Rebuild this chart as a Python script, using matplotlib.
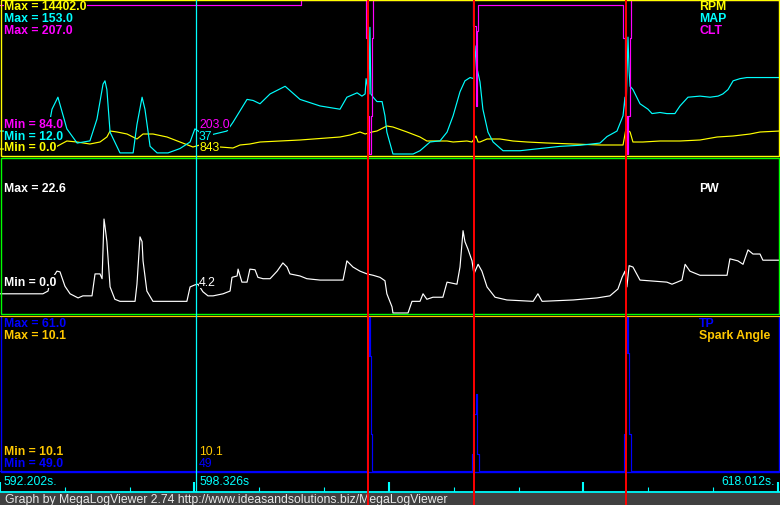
"""
MegaLogViewer-style log graph (RPM/MAP/CLT, PW, TP/Spark Angle)
"""
import numpy as np
import matplotlib
matplotlib.use("Agg")
import matplotlib.pyplot as plt
from matplotlib.patches import Rectangle

plt.rcParams['font.family'] = ['Liberation Sans', 'DejaVu Sans']

W, H = 780, 506

# time window (s)
T0 = 592.202
SPAN = 24.375
cursor_time = 598.326
marker_times = [603.702, 607.015, 611.765]
time_labels = ["592.202s.", "598.326s", "618.012s."]

# --- panel 1 : RPM / MAP / CLT (time relative to T0) ---
rpm_t = [0.0, 1.625, 2.09, 2.41, 2.81, 3.125, 3.34, 3.44, 3.66, 3.97, 4.28, 4.47, 4.78,
         5.22, 5.625, 6.03, 6.25, 6.875, 7.28, 7.5, 7.81, 8.125, 9.375, 10.625, 10.94,
         11.25, 11.41, 11.625, 11.78, 12.09, 12.28, 12.72, 13.125, 13.34, 13.97, 14.16,
         14.59, 14.75, 14.875, 14.94, 15.0, 15.22, 15.625, 16.03, 16.47, 17.09, 17.91,
         18.75, 19.47, 19.56, 19.69, 19.78, 20.09, 20.625, 21.25, 21.875, 22.41, 22.91,
         23.44, 23.75, 24.375]
rpm_v = [467, 467, 1216, 1122, 935, 1122, 1590, 2150, 2057, 1870, 1403, 1870, 1870,
         1590, 1122, 655, 843, 655, 561, 842, 935, 1122, 1309, 1590, 1777,
         2057, 1870, 2057, 2150, 2618, 2525, 2057, 1590, 1216, 1216, 1122,
         1216, 1122, 1683, 1122, 1122, 1403, 1403, 1216, 1122, 1029, 935,
         842, 842, 2338, 2057, 1122, 1122, 1216, 1216, 1309, 1590, 1683,
         1870, 2057, 2150]

map_t = [0.00, 1.50, 1.625, 1.81, 2.09, 2.41, 2.81, 3.03, 3.22, 3.28, 3.34, 3.44, 3.75,
         4.16, 4.28, 4.44, 4.53, 4.69, 4.91, 5.25, 5.625, 5.94, 6.09, 6.25, 6.66, 7.09,
         7.28, 7.72, 7.91, 8.125, 8.44, 8.91, 9.375, 10.0, 10.625, 10.84, 11.16, 11.31,
         11.41, 11.44, 11.53, 11.56, 11.59, 11.66, 11.78, 11.94, 12.03, 12.09, 12.28,
         12.91, 13.125, 13.44, 13.75, 13.97, 14.16, 14.375, 14.53, 14.69, 14.81, 14.875,
         14.91, 15.0, 15.09, 15.25, 15.41, 15.72, 16.25, 16.875, 17.5, 18.125, 18.75,
         18.97, 19.28, 19.47, 19.53, 19.56, 19.625, 19.66, 19.69, 19.78, 20.0, 20.25,
         20.375, 20.625, 20.84, 21.09, 21.25, 21.5, 21.875, 22.19, 22.44, 22.59, 22.75,
         22.91, 23.125, 23.34, 23.75, 24.375]
map_v = [33, 33, 53, 64, 35, 22, 24, 44, 76, 79, 71, 32, 13,
         13, 39, 64, 53, 19, 13, 13, 17, 23, 35, 32, 30, 33,
         41, 62, 61, 58, 67, 74, 62, 56, 53, 64, 68, 65,
         67, 81, 67, 128, 67, 64, 60, 60, 47, 32, 12,
         12, 15, 23, 24, 32, 47, 69, 79, 82, 81, 111,
         90, 78, 53, 32, 23, 15, 15, 17, 19, 20, 22,
         28, 33, 47, 64, 47, 119, 88, 74, 71, 58, 53,
         49, 50, 49, 49, 56, 64, 65, 64, 65, 67, 71,
         79, 81, 82, 82, 82]

clt_t = [0.0, 9.4, 9.4, 11.45, 11.45, 11.49, 11.49, 11.53, 11.53, 11.59, 11.59, 11.625,
         11.625, 11.66, 11.66, 14.78, 14.78, 14.86, 14.86, 14.91, 14.91, 14.94, 14.94,
         19.47, 19.47, 19.53, 19.53, 19.59, 19.59, 19.64, 19.64, 19.69, 19.69, 19.72,
         19.72, 24.375]
clt_v = [203, 203, 207, 207, 177, 177, 114, 114, 84, 84, 114, 114,
         177, 177, 207, 207, 186, 186, 122, 122, 182, 182, 203,
         203, 177, 177, 114, 114, 84, 84, 114, 114, 177, 177,
         207, 207]

# --- panel 2 : PW ---
pw_t = [0.0, 1.34, 1.5, 1.56, 1.78, 1.875, 2.03, 2.19, 2.44, 2.59,
        2.875, 2.97, 3.125, 3.19, 3.25, 3.28, 3.34, 3.44, 3.59, 3.75,
        4.22, 4.28, 4.375, 4.44, 4.47, 4.59, 4.78, 5.84, 5.94, 6.09,
        6.19, 6.34, 6.5, 6.66, 6.97, 7.19, 7.25, 7.41, 7.44, 7.56,
        7.72, 7.81, 7.97, 8.06, 8.22, 8.44, 8.66, 8.84, 8.97, 9.06,
        9.375, 9.59, 10.0, 10.72, 10.84, 11.03, 11.25, 11.47, 11.66, 11.875,
        12.03, 12.09, 12.25, 12.28, 12.75, 12.875, 13.125, 13.22, 13.34, 13.53,
        13.84, 13.97, 14.28, 14.375, 14.47, 14.53, 14.625, 14.75, 14.81, 14.94,
        15.06, 15.22, 15.47, 15.84, 16.66, 16.81, 16.94, 17.91, 18.66, 19.06,
        19.31, 19.44, 19.53, 19.59, 19.66, 19.78, 20.0, 20.84, 21.0, 21.16,
        21.31, 21.41, 21.56, 21.875, 22.72, 22.81, 23.06, 23.22, 23.375, 23.53,
        23.75, 23.84, 24.375]
pw_v = [2.8, 2.8, 3.2, 4.5, 6.1, 6.0, 3.9, 2.8, 2.2, 2.5,
        2.5, 5.7, 5.7, 5.0, 13.7, 12.7, 10.4, 3.8, 2.0, 1.7,
        1.7, 4.2, 11.1, 10.4, 7.6, 3.2, 1.7, 1.7, 3.8, 4.1,
        4.2, 3.1, 2.5, 2.5, 2.8, 3.2, 5.2, 5.4, 6.4, 4.5,
        4.5, 6.4, 6.3, 5.2, 5.0, 5.0, 6.1, 7.3, 6.7, 5.7,
        5.4, 5.0, 4.8, 4.8, 7.6, 6.7, 6.1, 5.7, 5.5, 5.2,
        4.7, 2.8, 0.9, 0.0, 0.0, 1.7, 1.7, 2.8, 2.0, 2.3,
        2.3, 4.5, 4.2, 6.7, 12.0, 10.4, 9.3, 7.6, 5.7, 7.1,
        6.1, 3.8, 2.3, 1.9, 1.7, 2.8, 1.7, 1.9, 2.2, 2.5,
        3.5, 5.2, 6.1, 3.8, 6.9, 6.7, 4.8, 4.5, 4.2, 4.5,
        4.8, 7.1, 6.1, 5.5, 5.5, 7.9, 7.6, 7.1, 9.2, 8.6,
        8.6, 7.7, 7.7]

# --- panel 3 : TP / Spark Angle ---
tp_t = [0.0, 11.46, 11.46, 11.49, 11.49, 11.53, 11.53, 11.56, 11.56, 11.59, 11.59, 11.64, 11.64,
        14.75, 14.75, 14.78, 14.78, 14.865, 14.865, 14.90, 14.90, 14.92, 14.92, 14.96, 14.96,
        19.51, 19.51, 19.55, 19.55, 19.59, 19.59, 19.635, 19.635, 19.67, 19.67, 19.71, 19.71,
        24.375]
tp_v = [49, 49, 51.9, 51.9, 57.9, 57.9, 61, 61, 57.9, 57.9, 51.9, 51.9, 49,
        49, 50.3, 50.3, 53.4, 53.4, 55.0, 55.0, 53.4, 53.4, 50.3, 50.3, 49,
        49, 51.9, 51.9, 58.1, 58.1, 61, 61, 58.1, 58.1, 51.9, 51.9, 49,
        49]
spark_t = [0.0, 24.375]
spark_v = [10.1, 10.1]

YEL, CYA, MAG, WHT = '#ffff00', '#00ffff', '#ff00ff', '#ffffff'
BLU, ORA, GRN, RED = '#0000ff', '#ffc800', '#00ff00', '#ff0000'

fig = plt.figure(figsize=(W / 100, H / 100), dpi=100, facecolor='black')


def pixel_axes(zorder):
    ax = fig.add_axes([0, 0, 1, 1])
    ax.set_xlim(0, W)
    ax.set_ylim(H, 0)
    ax.axis('off')
    ax.patch.set_alpha(0)
    ax.set_zorder(zorder)
    return ax


# background, time strip and footer
bg = pixel_axes(0)
bg.add_patch(Rectangle((0, 0), W, H, facecolor='black', edgecolor='none'))
bg.add_patch(Rectangle((0, 494), W, 12, facecolor='#404040', edgecolor='none'))
bg.plot([0, W], [493, 493], color=CYA, lw=1.3)

# panel frames sit above the label boxes
fr = pixel_axes(4)
fr.add_patch(Rectangle((0.5, 0.5), 778.5, 156.5, fill=False, edgecolor=YEL, lw=1.0))
fr.add_patch(Rectangle((0.5, 158.5), 778.5, 156.5, fill=False, edgecolor=GRN, lw=1.0))
fr.plot([0.5, 0.5, 779, 779], [316.5, 473, 473, 316.5], color=BLU, lw=1.0)


def series_axes(top_px, bot_px, ymin, ymax, zorder=1):
    ax = fig.add_axes([0, 1 - bot_px / H, 1, (bot_px - top_px) / H])
    ax.set_xlim(T0, T0 + SPAN)
    ax.set_ylim(ymin, ymax)
    ax.axis('off')
    ax.patch.set_alpha(0)
    ax.set_zorder(zorder)
    return ax


def trace(ax, t, v, color):
    ax.plot(T0 + np.array(t), v, color=color, lw=0.85, clip_on=False)


trace(series_axes(1, 155, 0, 14402), rpm_t, rpm_v, YEL)
trace(series_axes(1, 155, 12, 153), map_t, map_v, CYA)
trace(series_axes(1, 155, 84, 207), clt_t, clt_v, MAG)
trace(series_axes(159, 314, 0, 22.6), pw_t, pw_v, WHT)
trace(series_axes(317, 472, 49, 61), tp_t, tp_v, BLU)
trace(series_axes(317, 472, 9.1, 10.1, zorder=4.5), spark_t, spark_v, ORA)

# time ticks (big every third)
tk = series_axes(483, 493, 0, 1)
ticks = T0 + np.arange(13) * 2.026
for i, x in enumerate(ticks):
    big = i % 3 == 0
    tk.vlines(x, 0, 1 if big else 0.5, color=CYA, lw=1.5 if big else 0.8)


# labels (drawn over traces with a black box, like the viewer)
def put(x, y, s, color, bold=True, ha='left'):
    fig.text(x / W, 1 - y / H, s, color=color, fontsize=8.8, ha=ha, va='center',
             fontweight='bold' if bold else 'normal',
             bbox=dict(facecolor='black', edgecolor='none', pad=0.3))


put(4, 6.5, "Max = 14402.0", YEL)
put(4, 19, "Max = 153.0", CYA)
put(4, 31.5, "Max = 207.0", MAG)
put(4, 124.5, "Min = 84.0", MAG)
put(4, 136.5, "Min = 12.0", CYA)
put(4, 148.5, "Min = 0.0", YEL)
put(199, 124.5, "203.0", MAG, bold=False)
put(199, 136.5, "37", CYA, bold=False)
put(199, 148.5, "843", YEL, bold=False)
put(699, 6.5, "RPM", YEL)
put(699, 19, "MAP", CYA)
put(699, 31.5, "CLT", MAG)

put(4, 189, "Max = 22.6", WHT)
put(4, 282.5, "Min = 0.0", WHT)
put(199, 282.5, "4.2", WHT, bold=False)
put(699, 189, "PW", WHT)

put(4, 324, "Max = 61.0", BLU)
put(4, 336, "Max = 10.1", ORA)
put(4, 452, "Min = 10.1", ORA)
put(4, 464.5, "Min = 49.0", BLU)
put(199, 452, "10.1", ORA, bold=False)
put(199, 464.5, "49", BLU, bold=False)
put(699, 324, "TP", BLU)
put(699, 336, "Spark Angle", ORA)

put(3, 482, time_labels[0], CYA, bold=False)
put(199, 482, time_labels[1], CYA, bold=False)
put(775, 482, time_labels[2], CYA, bold=False, ha='right')

fig.text(5 / W, 1 - 500 / H, "Graph by MegaLogViewer 2.74 http://www.ideasandsolutions.biz/MegaLogViewer",
         color='#e8e8e8', fontsize=8.8, ha='left', va='center')

# cursor and event markers on top
ov = series_axes(0, H, H, 0, zorder=5)
ov.vlines(cursor_time, 0, 493, color=CYA, lw=0.9)
ov.vlines(marker_times, 0, H, color=RED, lw=1.4)

fig.savefig("out.png", dpi=100, facecolor='black')
